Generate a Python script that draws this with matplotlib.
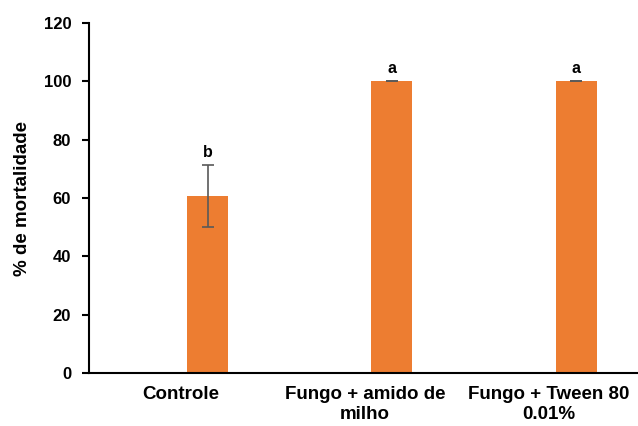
import matplotlib
matplotlib.use("Agg")
import matplotlib.pyplot as plt
from matplotlib.transforms import ScaledTranslation

categories = ["Controle", "Fungo + amido de\nmilho", "Fungo + Tween 80\n0.01%"]
values = [60.7, 100.0, 100.0]
errors = [10.5, 0.0, 0.0]
letters = ["b", "a", "a"]
yticks = [0, 20, 40, 60, 80, 100, 120]

plt.rcParams['font.family'] = ['Liberation Sans', 'DejaVu Sans']

fig = plt.figure(figsize=(6.38, 4.26), dpi=100)
ax = fig.add_axes([89.3/638, 53/426, 548.7/638, 350/426])

x = list(range(len(categories)))
ax.bar(x, values, width=0.2225, color="#ED7D31", zorder=2)
ax.errorbar(x, values, yerr=errors, fmt="none", ecolor="#595959",
            elinewidth=1.2, capsize=4, capthick=1.2, zorder=3)
for xi, v, e, l in zip(x, values, errors, letters):
    ax.text(xi, v + e + 1.8, l, ha="center", va="bottom", fontsize=11.5,
            fontweight="bold")

ax.set_xlim(-0.643, 2.336)
ax.set_ylim(0, 120)
ax.set_yticks(yticks)
ax.set_xticks(x)
ax.set_xticklabels([""] * len(categories))
shift = ScaledTranslation(-0.27, -0.13, fig.dpi_scale_trans)
for xi, c in zip(x, categories):
    ax.text(xi, 0, c, transform=ax.get_xaxis_transform() + shift,
            ha="center", va="top", multialignment="center",
            fontsize=13.5, fontweight="bold")
for lab in ax.get_yticklabels():
    lab.set_fontweight("bold")
    lab.set_fontsize(12)
ax.tick_params(axis="x", length=0)
ax.tick_params(axis="y", length=5, width=1.5, direction="out", pad=8)
ax.set_ylabel("% de mortalidade", fontsize=13.5, fontweight="bold", labelpad=9)
for s in ["top", "right"]:
    ax.spines[s].set_visible(False)
for s in ["left", "bottom"]:
    ax.spines[s].set_linewidth(1.5)
    ax.spines[s].set_color("black")

fig.savefig("out.png", dpi=100)
